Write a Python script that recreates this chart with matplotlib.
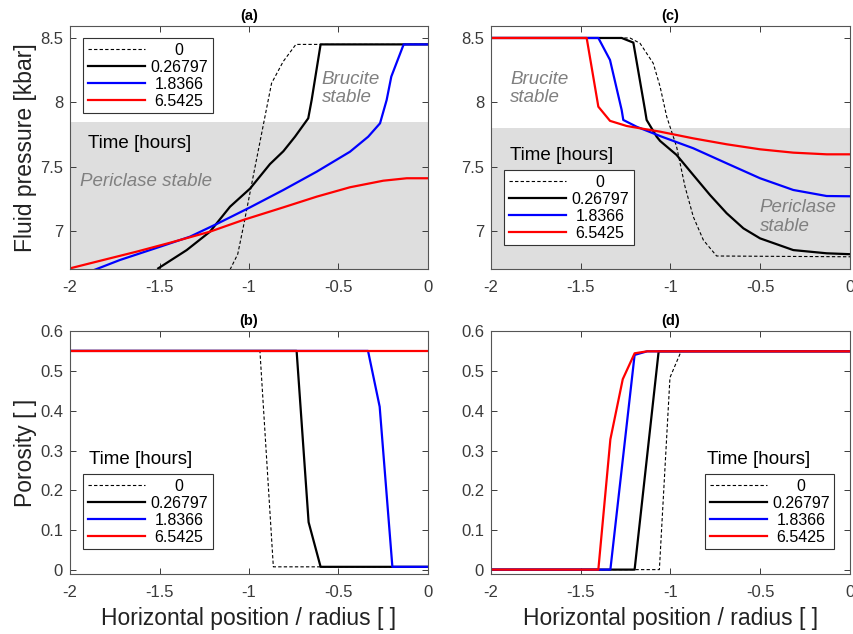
import numpy as np
import matplotlib
matplotlib.use("Agg")
import matplotlib.pyplot as plt

plt.rcParams['font.family'] = ['Liberation Sans', 'DejaVu Sans']

times = ['0', '0.26797', '1.8366', '6.5425']
colors = ['black', 'black', 'blue', 'red']
styles = ['--', '-', '-', '-']
widths = [0.8, 1.6, 1.6, 1.6]

# (a) fluid pressure, case 1
a_x = [
    [-1.106, -1.063, -1.032, -0.966, -0.911, -0.874, -0.809, -0.738, 0.0],
    [-1.507, -1.348, -1.218, -1.106, -0.994, -0.883, -0.808, -0.743, -0.669, -0.65, -0.60, 0.0],
    [-1.86, -1.721, -1.497, -1.330, -1.18, -0.994, -0.808, -0.622, -0.436, -0.334,
     -0.268, -0.231, -0.205, -0.136, 0.0],
    [-2.0, -1.814, -1.627, -1.441, -1.218, -1.032, -0.808, -0.622, -0.436, -0.25, -0.119, 0.0],
]
a_y = [
    [6.70, 6.82, 7.03, 7.50, 7.888, 8.148, 8.317, 8.45, 8.45],
    [6.71, 6.852, 6.995, 7.189, 7.33, 7.52, 7.62, 7.733, 7.876, 8.018, 8.45, 8.45],
    [6.70, 6.775, 6.878, 6.956, 7.055, 7.184, 7.319, 7.461, 7.616, 7.733,
     7.837, 8.018, 8.20, 8.45, 8.45],
    [6.71, 6.775, 6.84, 6.909, 6.995, 7.086, 7.184, 7.267, 7.34, 7.391, 7.41, 7.41],
]

# (c) fluid pressure, case 2
c_x = [
    [-2.0, -1.226, -1.17, -1.096, -1.058, -1.021, -0.966, -0.919, -0.873, -0.817, -0.743, 0.0],
    [-2.0, -1.272, -1.207, -1.142, -1.133, -1.077, -1.058, -0.966, -0.873, -0.78, -0.687,
     -0.594, -0.501, -0.316, -0.13, 0.0],
    [-2.0, -1.402, -1.337, -1.272, -1.263, -1.188, -1.058, -0.873, -0.687, -0.501,
     -0.316, -0.13, 0.0],
    [-2.0, -1.467, -1.402, -1.337, -1.244, -1.058, -0.873, -0.687, -0.501, -0.316, -0.13, 0.0],
]
c_y = [
    [8.5, 8.5, 8.459, 8.303, 8.122, 7.888, 7.655, 7.344, 7.111, 6.93, 6.806, 6.80],
    [8.5, 8.5, 8.464, 7.94, 7.863, 7.733, 7.70, 7.591, 7.435, 7.28, 7.138,
     7.021, 6.943, 6.852, 6.827, 6.82],
    [8.5, 8.5, 8.329, 7.94, 7.863, 7.81, 7.738, 7.643, 7.526, 7.41,
     7.319, 7.272, 7.27],
    [8.5, 8.5, 7.966, 7.856, 7.816, 7.772, 7.72, 7.674, 7.635, 7.609, 7.596, 7.596],
]

# (b) porosity, case 1
b_x = [
    [-2.0, -0.939, -0.864, 0.0],
    [-2.0, -0.734, -0.667, -0.60, 0.0],
    [-2.0, -0.335, -0.27, -0.199, 0.0],
    [-2.0, 0.0],
]
b_y = [
    [0.55, 0.55, 0.008, 0.008],
    [0.55, 0.55, 0.12, 0.008, 0.008],
    [0.55, 0.55, 0.41, 0.008, 0.008],
    [0.55, 0.55],
]

# (d) porosity, case 2
d_x = [
    [-2.0, -1.062, -1.003, -0.941, 0.0],
    [-2.0, -1.20, -1.066, 0.0],
    [-2.0, -1.335, -1.20, -1.13, 0.0],
    [-2.0, -1.402, -1.335, -1.266, -1.20, -1.13, 0.0],
]
d_y = [
    [0.001, 0.001, 0.483, 0.549, 0.549],
    [0.001, 0.001, 0.549, 0.549],
    [0.001, 0.001, 0.54, 0.549, 0.549],
    [0.001, 0.001, 0.328, 0.479, 0.544, 0.549, 0.549],
]

brucite_limit_a = 7.85
brucite_limit_c = 7.80

W, H = 854, 634
fig = plt.figure(figsize=(W / 100, H / 100), dpi=100)


def px_axes(l, t, r, b):
    return fig.add_axes([l / W, 1 - b / H, (r - l) / W, (b - t) / H])


ax_a = px_axes(70, 26, 428, 269)
ax_c = px_axes(491, 26, 850, 269)
ax_b = px_axes(70, 331, 428, 574)
ax_d = px_axes(491, 331, 850, 574)

frame = '#3a3a3a'


def style(ax, title):
    ax.set_xlim(-2, 0)
    ax.set_xticks([-2, -1.5, -1, -0.5, 0])
    ax.set_xticklabels(['-2', '-1.5', '-1', '-0.5', '0'])
    ax.tick_params(direction='in', top=True, right=True, labelsize=12,
                   colors=frame, length=4, width=0.7, pad=5)
    ax.tick_params(axis='x', pad=8)
    for s in ax.spines.values():
        s.set_color('#555555')
        s.set_linewidth(0.8)
    ax.set_title(title, fontsize=10.5, fontweight='bold', pad=4)


def draw(ax, xs, ys):
    for x, y, c, ls, lw, lab in zip(xs, ys, colors, styles, widths, times):
        ax.plot(x, y, color=c, linestyle=ls, linewidth=lw, label=lab,
                dashes=(3, 2) if ls == '--' else (None, None))


legends = []


def legend(ax, left, top):
    leg = ax.legend(loc='upper left', bbox_to_anchor=(left / W, 1 - top / H),
                    bbox_transform=fig.transFigure, fontsize=11.5,
                    handlelength=3.6, handletextpad=0.3, labelspacing=0.12,
                    borderpad=0.3, borderaxespad=0, fancybox=False,
                    framealpha=1, edgecolor='#333333')
    leg.get_frame().set_linewidth(0.8)
    legends.append(leg)


for ax, lim in [(ax_a, brucite_limit_a), (ax_c, brucite_limit_c)]:
    ax.set_ylim(6.705, 8.593)
    ax.set_yticks([7, 7.5, 8, 8.5])
    ax.set_yticklabels(['7', '7.5', '8', '8.5'])
    ax.axhspan(6.6, lim, color='#dedede', zorder=0, linewidth=0)

for ax in [ax_b, ax_d]:
    ax.set_ylim(-0.01, 0.6)
    ax.set_yticks([0, 0.1, 0.2, 0.3, 0.4, 0.5, 0.6])
    ax.set_yticklabels(['0', '0.1', '0.2', '0.3', '0.4', '0.5', '0.6'])

style(ax_a, '(a)')
style(ax_c, '(c)')
style(ax_b, '(b)')
style(ax_d, '(d)')

draw(ax_a, a_x, a_y)
draw(ax_c, c_x, c_y)
draw(ax_b, b_x, b_y)
draw(ax_d, d_x, d_y)

legend(ax_a, 83, 38)
legend(ax_c, 504, 170)
legend(ax_b, 83, 474)
legend(ax_d, 705, 474)

tkw = dict(fontsize=13.5, color='black', va='center', ha='left')
fig.text(88 / W, 1 - 143 / H, 'Time [hours]', **tkw)
fig.text(510 / W, 1 - 155 / H, 'Time [hours]', **tkw)
fig.text(89 / W, 1 - 460 / H, 'Time [hours]', **tkw)
fig.text(707 / W, 1 - 460 / H, 'Time [hours]', **tkw)

gkw = dict(fontsize=13.5, color='#808080', style='italic', va='center', ha='left',
           linespacing=1.1)
ax_a.text(-0.595, 8.11, 'Brucite\nstable', **gkw)
ax_a.text(-1.942, 7.387, 'Periclase stable', **gkw)
ax_c.text(-1.892, 8.11, 'Brucite\nstable', **gkw)
ax_c.text(-0.503, 7.11, 'Periclase\nstable', **gkw)

lkw = dict(fontsize=16.5, color='#222222')
ax_a.set_ylabel('Fluid pressure [kbar]', labelpad=2, **lkw)
ax_b.set_ylabel('Porosity [ ]', labelpad=2, **lkw)
ax_b.set_xlabel('Horizontal position / radius [ ]', labelpad=5, **lkw)
ax_d.set_xlabel('Horizontal position / radius [ ]', labelpad=5, **lkw)

# centre the legend labels in their column, as in the original
fig.canvas.draw()
r = fig.canvas.get_renderer()
for leg in legends:
    texts = leg.get_texts()
    ws = [t.get_window_extent(r).width for t in texts]
    wmax = max(ws)
    for t, w in zip(texts, ws):
        t.set_x((wmax - w) / 2)

fig.savefig('out.png', dpi=100)
